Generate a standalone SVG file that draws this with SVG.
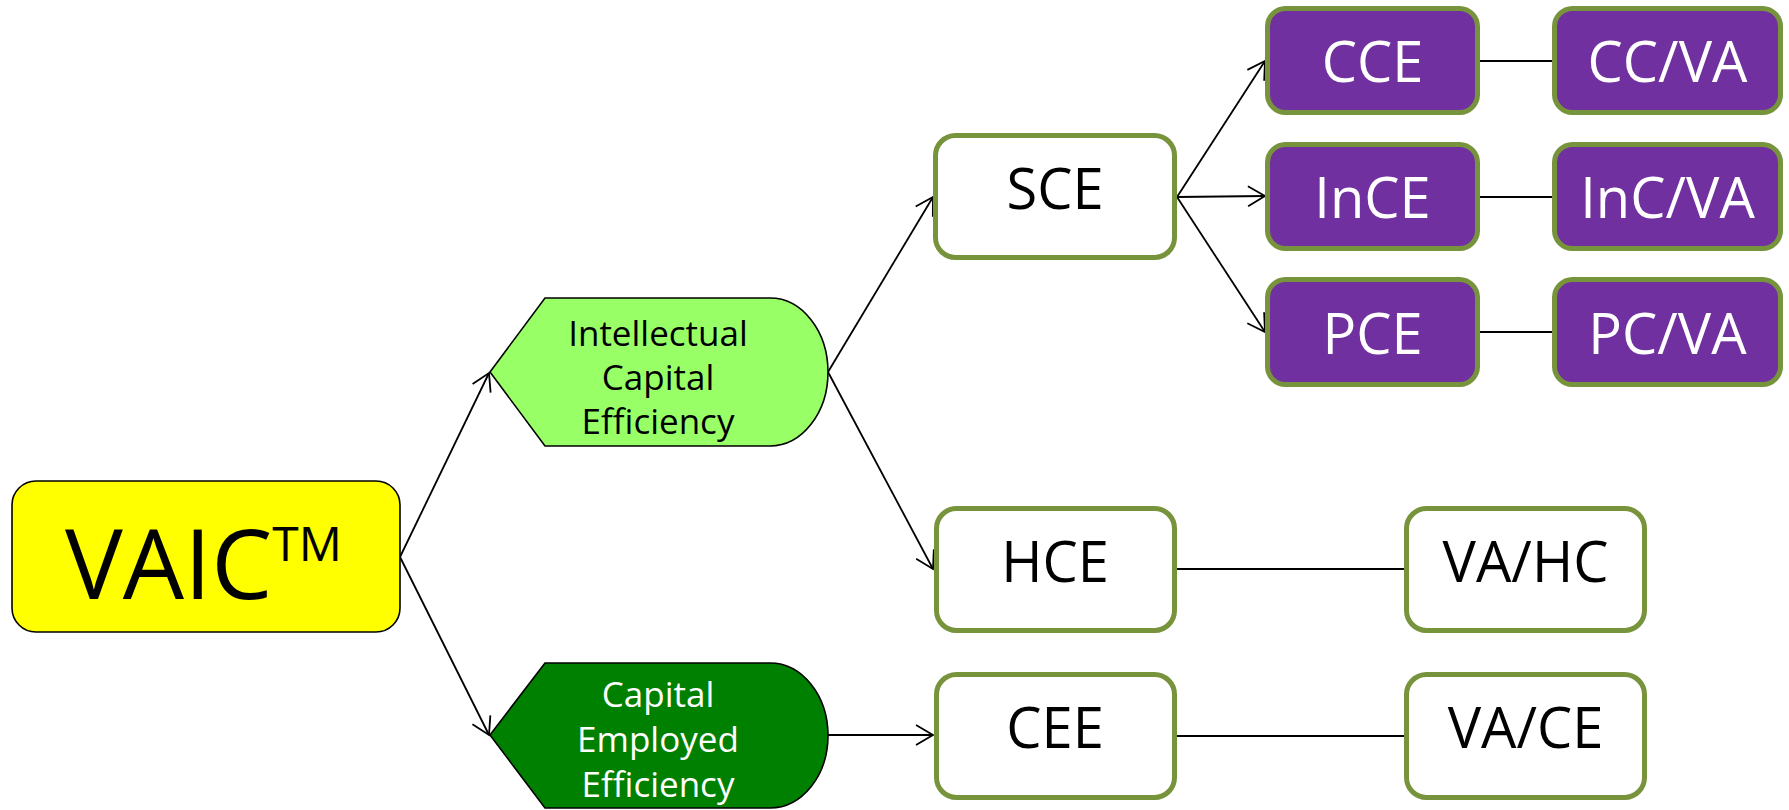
<svg xmlns="http://www.w3.org/2000/svg" width="1789" height="810" viewBox="0 0 1789 810">
  <defs>
    <style>
      text { font-family: "Open Sans", "Liberation Sans", sans-serif; text-anchor: middle; }
      .wbox { fill: #FFFFFF; stroke: #77933C; stroke-width: 5; }
      .pbox { fill: #7030A0; stroke: #77933C; stroke-width: 5; }
      .lbl { font-size: 56px; fill: #000000; }
      .plbl { font-size: 56px; fill: #FFFFFF; }
      .conn { fill: none; stroke: #000000; stroke-width: 1.8; }
      .arr { marker-end: url(#arrow); }
      .shape { stroke: #000000; stroke-width: 1.6; }
      .small { font-size: 35px; }
    </style>
    <marker id="arrow" markerUnits="userSpaceOnUse" markerWidth="22" markerHeight="24" refX="17" refY="10" orient="auto" overflow="visible">
      <path d="M0,0 L17,10 L0,20" fill="none" stroke="#000000" stroke-width="1.8"/>
    </marker>
  </defs>
  <rect width="1789" height="810" fill="#FFFFFF"/>

  <g id="connectors">
    <line class="conn arr" x1="400" y1="557" x2="489" y2="373"/>
    <line class="conn arr" x1="400" y1="557" x2="489" y2="735"/>
    <line class="conn arr" x1="828" y1="372" x2="933" y2="197"/>
    <line class="conn arr" x1="828" y1="372" x2="933" y2="569"/>
    <line class="conn arr" x1="827" y1="735" x2="933" y2="735"/>
    <line class="conn arr" x1="1177" y1="197" x2="1265" y2="61"/>
    <line class="conn arr" x1="1177" y1="197" x2="1265" y2="196"/>
    <line class="conn arr" x1="1177" y1="197" x2="1265" y2="332"/>
    <line class="conn" x1="1480" y1="61" x2="1552" y2="61"/>
    <line class="conn" x1="1480" y1="197" x2="1552" y2="197"/>
    <line class="conn" x1="1480" y1="332" x2="1552" y2="332"/>
    <line class="conn" x1="1177" y1="569" x2="1404" y2="569"/>
    <line class="conn" x1="1177" y1="736" x2="1404" y2="736"/>
  </g>

  <g id="vaic">
    <rect x="12" y="481" width="388" height="151" rx="24" fill="#FFFF00" stroke="#000000" stroke-width="1.6"/>
    <text x="65" y="599" style="text-anchor:start" font-size="97">VAIC<tspan font-size="48" dy="-38">TM</tspan></text>
  </g>

  <g id="ic">
    <path class="shape" d="M490,372 L545,298 L770,298 A58,74 0 0 1 770,446 L545,446 Z" fill="#99FF66"/>
    <text class="small" x="658" y="346">Intellectual</text>
    <text class="small" x="658" y="390">Capital</text>
    <text class="small" x="658" y="434">Efficiency</text>
  </g>

  <g id="cee-node">
    <path class="shape" d="M490,735 L545,663 L770,663 A58,72.5 0 0 1 770,808 L545,808 Z" fill="#008000"/>
    <text class="small" x="658" y="707" fill="#FFFFFF">Capital</text>
    <text class="small" x="658" y="752" fill="#FFFFFF">Employed</text>
    <text class="small" x="658" y="797" fill="#FFFFFF">Efficiency</text>
  </g>

  <g id="sce">
    <rect class="wbox" x="935.5" y="135.5" width="239" height="122" rx="20"/>
    <text class="lbl" x="1055" y="209">SCE</text>
  </g>
  <g id="hce">
    <rect class="wbox" x="936.5" y="508.5" width="238" height="122" rx="20"/>
    <text class="lbl" x="1055" y="582">HCE</text>
  </g>
  <g id="cee">
    <rect class="wbox" x="936.5" y="674.5" width="238" height="123" rx="20"/>
    <text class="lbl" x="1055" y="748">CEE</text>
  </g>
  <g id="vahc">
    <rect class="wbox" x="1406.5" y="508.5" width="238" height="122" rx="20"/>
    <text class="lbl" x="1525.5" y="582">VA/HC</text>
  </g>
  <g id="vace">
    <rect class="wbox" x="1406.5" y="674.5" width="238" height="123" rx="20"/>
    <text class="lbl" x="1525.5" y="748">VA/CE</text>
  </g>

  <g id="cce">
    <rect class="pbox" x="1267.5" y="8.5" width="210" height="104" rx="18"/>
    <text class="plbl" x="1372.5" y="82">CCE</text>
  </g>
  <g id="ccva">
    <rect class="pbox" x="1554.5" y="8.5" width="226" height="104" rx="18"/>
    <text class="plbl" x="1667.5" y="82">CC/VA</text>
  </g>
  <g id="ince">
    <rect class="pbox" x="1267.5" y="144.5" width="210" height="104" rx="18"/>
    <text class="plbl" x="1372.5" y="218">InCE</text>
  </g>
  <g id="incva">
    <rect class="pbox" x="1554.5" y="144.5" width="226" height="104" rx="18"/>
    <text class="plbl" x="1667.5" y="218">InC/VA</text>
  </g>
  <g id="pce">
    <rect class="pbox" x="1267.5" y="279.5" width="210" height="105" rx="18"/>
    <text class="plbl" x="1372.5" y="354">PCE</text>
  </g>
  <g id="pcva">
    <rect class="pbox" x="1554.5" y="279.5" width="226" height="105" rx="18"/>
    <text class="plbl" x="1667.5" y="354">PC/VA</text>
  </g>
</svg>
